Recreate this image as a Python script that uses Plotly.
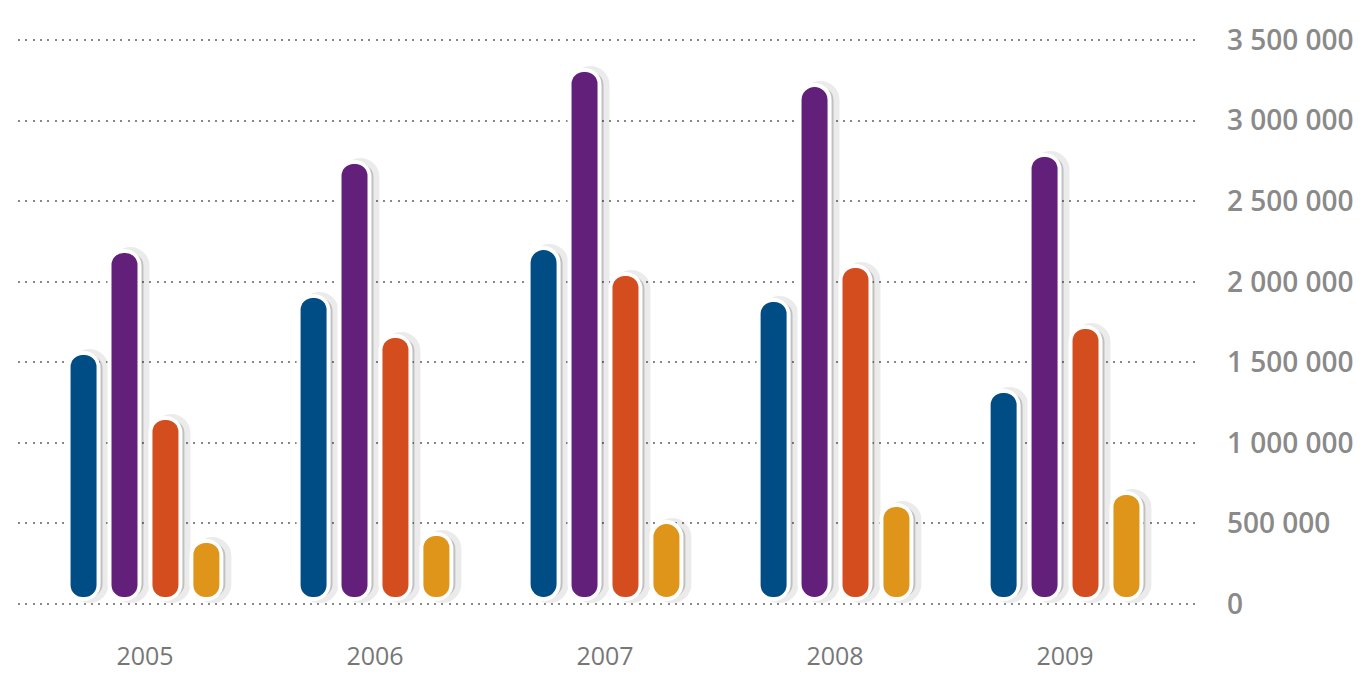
import plotly.graph_objects as go

years = ["2005", "2006", "2007", "2008", "2009"]
series_names = ["Series A", "Series B", "Series C", "Series D"]
blue_values = [1545000, 1899000, 2197000, 1874000, 1309000]
purple_values = [2178000, 2731000, 3302000, 3209000, 2774000]
orange_values = [1142000, 1651000, 2036000, 2085000, 1707000]
gold_values = [379000, 422000, 496000, 602000, 676000]
y_ticks = [0, 500000, 1000000, 1500000, 2000000, 2500000, 3000000, 3500000]

colors = ["#004c85", "#63207b", "#d44d1f", "#de951a"]
all_values = [blue_values, purple_values, orange_values, gold_values]

x = list(range(len(years)))
step = 0.178   # distance between bar centres, in category units
width = 0.113  # bar width, in category units (~26 px)
shadow_shift = 0.026

y_range = [-99300, 3624000]
per_px = (y_range[1] - y_range[0]) / 600
inset = 7 * per_px  # pills stand a few pixels above the zero line

fig = go.Figure()

for i, (name, values, color) in enumerate(zip(series_names, all_values, colors)):
    offset = (i - 1.5) * step - width / 2
    bases = [inset] * len(values)
    body = [v - inset for v in values]

    # soft shadow, a bit to the right
    fig.add_trace(
        go.Bar(
            x=x, y=body, base=bases, name=name, showlegend=False, hoverinfo="skip",
            offset=offset + shadow_shift, width=width,
            marker=dict(color="rgba(0,0,0,0.18)", cornerradius=14,
                        line=dict(color="rgba(0,0,0,0.08)", width=12)),
        )
    )
    # white outline underneath (axis y), coloured pill on top (axis y2)
    for fill, lw, axis in (("white", 8, "y"), (color, 0, "y2")):
        hover = dict(hoverinfo="skip") if fill == "white" else dict(
            customdata=values,
            hovertemplate=f"<b>{name}</b><br>%{{x}}: %{{customdata:,d}}<extra></extra>",
        )
        fig.add_trace(
            go.Bar(
                x=x, y=body, base=bases, name=name, showlegend=False,
                offset=offset, width=width, yaxis=axis,
                marker=dict(color=fill, cornerradius=13,
                            line=dict(color="white", width=lw)),
                **hover,
            )
        )

fig.update_layout(
    width=1358,
    height=668,
    barmode="overlay",
    plot_bgcolor="white",
    paper_bgcolor="white",
    separators=". ",
    margin=dict(l=10, r=171, t=12, b=56),
    font=dict(family="Open Sans", color="#7a7a7a"),
    xaxis=dict(
        range=[-0.552, 4.565],
        tickvals=x,
        ticktext=years,
        showgrid=False,
        zeroline=False,
        showline=False,
        ticks="",
        automargin=False,
        ticklabelstandoff=19,
        tickfont=dict(size=25, color="#777777"),
    ),
    yaxis=dict(
        side="right",
        range=y_range,
        tickvals=y_ticks,
        tickformat=",d",
        showgrid=True,
        gridcolor="#888888",
        gridwidth=2,
        griddash="2px,5.3px",
        zeroline=False,
        showline=False,
        ticks="",
        automargin=False,
        ticklabelstandoff=31,
        tickfont=dict(size=28, color="#8a8a8a", weight=600),
    ),
    yaxis2=dict(overlaying="y", range=y_range, visible=False,
                showgrid=False, zeroline=False, automargin=False),
)

fig.write_html("out.html")
